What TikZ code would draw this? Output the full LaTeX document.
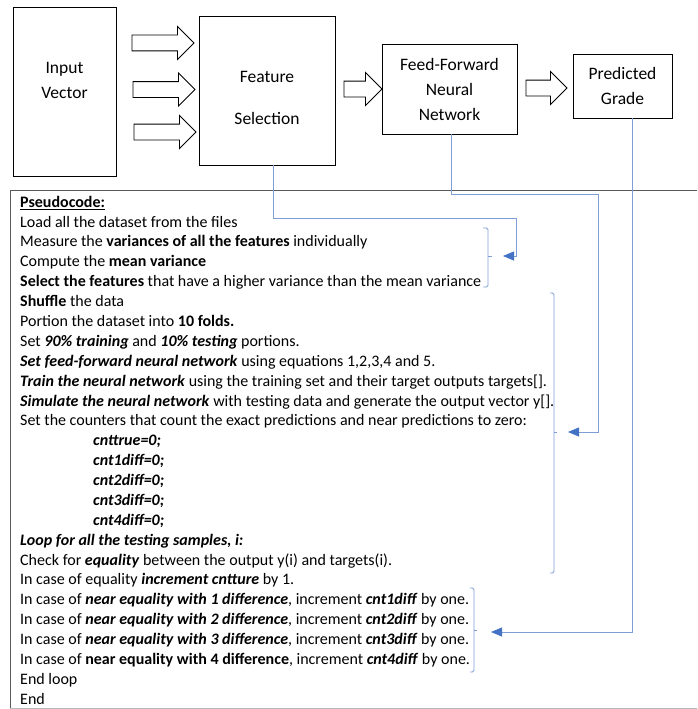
\documentclass[tikz,border=0pt]{standalone}
\usepackage{fontspec}
\setmainfont{Carlito}
\usepackage{xcolor}
\usepackage{tikz}
\usetikzlibrary{shapes.arrows}
\usetikzlibrary{arrows.meta}

\definecolor{linkblue}{HTML}{7F9ED6}
\definecolor{tipblue}{HTML}{4472C4}

\tikzset{
  block/.style = {draw, line width=0.9pt, inner sep=0pt},
  boxtext/.style = {font=\fontsize{17.5}{25}\selectfont, align=center, inner sep=0pt},
  fatarrow/.style = {draw, line width=0.9pt, single arrow, single arrow head extend=8.5pt,
    inner xsep=0pt, inner ysep=7.5pt},
  link/.style = {draw=linkblue, line width=0.8pt,
    -{Triangle[length=11pt,width=9pt,fill=tipblue,color=tipblue]}},
  bracket/.style = {draw=linkblue, line width=0.8pt, rounded corners=1.5pt},
  code/.style = {font=\fontsize{16}{19.88}\selectfont, align=flush left, inner sep=0pt, text width=660pt},
}

\begin{document}
\begin{tikzpicture}[x=1pt, y=-1pt]
    \useasboundingbox (0,0) rectangle (697,709);

    % the four blocks
    \node[block, minimum width=103pt, minimum height=169pt] (iv) at (64.5,91.5) {};
    \node[boxtext] (ivtext) at (64.5,80.5) {Input\\Vector};

    \node[block, minimum width=136pt, minimum height=149pt] (fs) at (267,90.5) {};
    \node[boxtext] (fstext1) at (267,77) {Feature};
    \node[boxtext] (fstext2) at (267,118) {Selection};

    \node[block, boxtext, minimum width=135pt, minimum height=90pt] (nn) at (449.5,89)
        {Feed-Forward\\Neural\\Network};
    \node[block, boxtext, minimum width=99pt, minimum height=64pt] (pg) at (622.5,86)
        {Predicted\\Grade};

    % fat arrows between the blocks
    \node[fatarrow, minimum height=62pt] (a1) at (159,43) {};
    \node[fatarrow, minimum height=62pt] (a2) at (160,89.5) {};
    \node[fatarrow, minimum height=62pt] (a3) at (161,132) {};
    \node[fatarrow, minimum height=38pt] (a4) at (359,89) {};
    \node[fatarrow, minimum height=41pt] (a5) at (542.5,88) {};

    % pseudocode frame
    \draw[color=black!65, line width=0.9pt] (10,708) -- (10,190) -- (697,190);
    \draw[color=black!28, line width=0.9pt] (10,708) -- (697,708);

    \node[code, anchor=north west] (code) at (20,193.1) {\strut\underline{\textbf{Pseudocode:}}\\
        Load all the dataset from the files\\
        Measure the \textbf{variances of all the features} individually\\
        Compute the \textbf{mean variance}\\
        \textbf{Select the features} that have a higher variance than the mean variance\\
        \textbf{Shuffle} the data\\
        Portion the dataset into \textbf{10 folds.}\\
        Set \textbf{\textit{90\% training}} and \textbf{\textit{10\% testing}} portions.\\
        \textbf{\textit{Set feed-forward neural network}} using equations 1,2,3,4 and 5.\\
        \textbf{\textit{Train the neural network}} using the training set and their target outputs targets[].\\
        \textbf{\textit{Simulate the neural network}} with testing data and generate the output vector y[].\\
        Set the counters that count the exact predictions and near predictions to zero:\\
        \hspace*{73pt}\textbf{\textit{cnttrue=0;}}\\
        \hspace*{73pt}\textbf{\textit{cnt1diff=0;}}\\
        \hspace*{73pt}\textbf{\textit{cnt2diff=0;}}\\
        \hspace*{73pt}\textbf{\textit{cnt3diff=0;}}\\
        \hspace*{73pt}\textbf{\textit{cnt4diff=0;}}\\
        \textbf{\textit{Loop for all the testing samples, i:}}\\
        Check for \textbf{\textit{equality}} between the output y(i) and targets(i).\\
        In case of equality \textbf{\textit{increment cntture}} by 1.\\
        In case of \textbf{\textit{near equality with 1 difference}}, increment \textbf{\textit{cnt1diff}} by one.\\
        In case of \textbf{\textit{near equality with 2 difference}}, increment \textbf{\textit{cnt2diff}} by one.\\
        In case of \textbf{\textit{near equality with 3 difference}}, increment \textbf{\textit{cnt3diff}} by one.\\
        In case of \textbf{near equality with 4 difference}, increment \textbf{\textit{cnt4diff}} by one.\\
        End loop\\
        End};

    % brackets on the right of the code
    \draw[bracket] (483,228) -- (488,228) -- (488,287) -- (483,287);
    \draw[bracket] (488,256) -- (492,256);
    \draw[bracket] (550,293) -- (554,293) -- (554,573) -- (550,573);
    \draw[bracket] (554,432) -- (557,432);
    \draw[bracket] (470,588) -- (474,588) -- (474,672) -- (470,672);
    \draw[bracket] (474,630) -- (477,630);

    % where the links end
    \coordinate (t1) at (503,256);
    \coordinate (t2) at (568,432);
    \coordinate (t3) at (491,632);

    \draw[link] ([xshift=6pt]fs.south) |- (516,218) |- (t1);
    \draw[link] ([xshift=1.5pt]nn.south) |- (598,194) |- (t2);
    \draw[link] ([xshift=9.5pt]pg.south) |- (t3);
\end{tikzpicture}
\end{document}
